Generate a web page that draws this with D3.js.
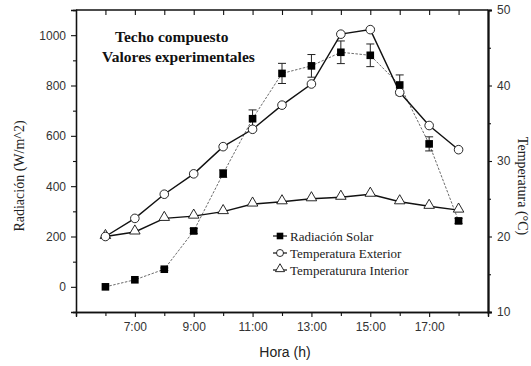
<!DOCTYPE html>
<html>
<head>
<meta charset="utf-8">
<script src="https://cdn.jsdelivr.net/npm/d3@7/dist/d3.min.js"></script>
<style>
  html, body { margin: 0; padding: 0; background: #fff; }
  svg { display: block; }
</style>
</head>
<body>
<svg id="chart" width="531" height="366"></svg>
<script>
// Hour of day (h)
const hours = [6, 7, 8, 9, 10, 11, 12, 13, 14, 15, 16, 17, 18];
// Solar radiation (W/m^2) and its measured spread
const radiacion = [0, 28, 70, 222, 450, 668, 848, 878, 932, 920, 802, 568, 262];
const radiacionErr = [0, 0, 5, 10, 15, 35, 40, 45, 45, 45, 40, 28, 10];
// Outdoor and indoor temperature (°C)
const tempExterior = [20, 22.4, 25.6, 28.3, 31.9, 34.2, 37.4, 40.2, 46.8, 47.4, 39.1, 34.7, 31.5];
const tempInterior = [20, 20.6, 22.4, 22.7, 23.3, 24.3, 24.6, 25.0, 25.2, 25.6, 24.6, 24.0, 23.5];
// Axis ticks
const xTickLabels = ["7:00", "9:00", "11:00", "13:00", "15:00", "17:00"];
const xMajor = [7, 9, 11, 13, 15, 17];
const xMinor = [6, 8, 10, 12, 14, 16, 18];
const yLeftMajor = [0, 200, 400, 600, 800, 1000];
const yLeftMinor = [-100, 100, 300, 500, 700, 900];
const yRightMajor = [10, 20, 30, 40, 50];
const yRightMinor = [15, 25, 35, 45];
const legendLabels = ["Radiación Solar", "Temperatura Exterior", "Temperaturura Interior"];

const svg = d3.select("#chart");
const L = 76, R = 488, T = 10, B = 312;

const x = d3.scaleLinear().domain([5, 19]).range([L, R]);
const yL = d3.scaleLinear().domain([-100, 1100]).range([B, T]);
const yR = d3.scaleLinear().domain([10, 50]).range([B, T]);

const sans = "'Liberation Sans', Arial, sans-serif";
const serif = "'Liberation Serif', 'Times New Roman', serif";
const ink = "#111";
const fmt = d3.format("d");

// Bottom axis
const axBottom = svg.append("g").attr("transform", `translate(0,${B})`);
axBottom.call(d3.axisBottom(x).tickValues(xMajor).tickSize(5).tickFormat((d, i) => xTickLabels[i]));
axBottom.append("g").call(d3.axisBottom(x).tickValues(xMinor).tickSize(4).tickFormat(""));
// Top axis, ticks inward
const axTop = svg.append("g").attr("transform", `translate(0,${T})`);
axTop.call(d3.axisBottom(x).tickValues(xMajor.concat(xMinor)).tickSize(5).tickFormat(""));
axTop.select(".domain").remove();
svg.append("line").attr("x1", L).attr("x2", R).attr("y1", T).attr("y2", T)
  .attr("stroke", ink).attr("stroke-width", 1.5);

// Left axis
const axLeft = svg.append("g").attr("transform", `translate(${L},0)`);
axLeft.call(d3.axisLeft(yL).tickValues(yLeftMajor).tickSize(5).tickPadding(5).tickFormat(fmt));
axLeft.append("g").call(d3.axisLeft(yL).tickValues(yLeftMinor).tickSize(3).tickFormat(""));

// Right axis
const axRight = svg.append("g").attr("transform", `translate(${R},0)`);
axRight.call(d3.axisRight(yR).tickValues(yRightMajor).tickSize(4).tickPadding(5).tickFormat(fmt));
axRight.append("g").call(d3.axisRight(yR).tickValues(yRightMinor).tickSize(3).tickFormat(""));

svg.selectAll(".domain").attr("stroke", ink).attr("stroke-width", 1.3);
axRight.select(".domain").attr("stroke-width", 2.2);
svg.selectAll(".tick line").attr("stroke", ink).attr("stroke-width", 1.1);
svg.selectAll(".tick text").attr("font-family", sans).attr("font-size", 12).attr("fill", "#333");
axBottom.selectAll(".tick text").attr("dy", "0.95em");

// Radiation series: thin dashed line with error bars and filled squares
const lineRad = d3.line().x((d, i) => x(hours[i])).y(d => yL(d));
svg.append("path").datum(radiacion).attr("d", lineRad)
  .attr("fill", "none").attr("stroke", "#444").attr("stroke-width", 0.8)
  .attr("stroke-dasharray", "2.5,1.5");

const err = svg.append("g").attr("stroke", "#222").attr("stroke-width", 1);
hours.forEach((h, i) => {
  const e = radiacionErr[i];
  if (!e) return;
  const cx = x(h), y1 = yL(radiacion[i] + e), y2 = yL(radiacion[i] - e);
  err.append("line").attr("x1", cx).attr("x2", cx).attr("y1", y1).attr("y2", y2);
  err.append("line").attr("x1", cx - 4).attr("x2", cx + 4).attr("y1", y1).attr("y2", y1);
  err.append("line").attr("x1", cx - 4).attr("x2", cx + 4).attr("y1", y2).attr("y2", y2);
});

// Temperature series
const lineT = d3.line().x((d, i) => x(hours[i])).y(d => yR(d));
svg.append("path").datum(tempExterior).attr("d", lineT)
  .attr("fill", "none").attr("stroke", ink).attr("stroke-width", 1.4);
svg.append("path").datum(tempInterior).attr("d", lineT)
  .attr("fill", "none").attr("stroke", ink).attr("stroke-width", 1.4);

const tri = d3.symbol().type(d3.symbolTriangle).size(48);
svg.append("g").selectAll("path").data(tempInterior).join("path")
  .attr("d", tri)
  .attr("transform", (d, i) => `translate(${x(hours[i])},${yR(d) - 1})`)
  .attr("fill", "#fff").attr("stroke", ink).attr("stroke-width", 0.9);

svg.append("g").selectAll("circle").data(tempExterior).join("circle")
  .attr("cx", (d, i) => x(hours[i])).attr("cy", d => yR(d)).attr("r", 4.3)
  .attr("fill", "#fff").attr("stroke", ink).attr("stroke-width", 0.9);

svg.append("g").selectAll("rect").data(radiacion).join("rect")
  .attr("x", (d, i) => x(hours[i]) - 3.8).attr("y", d => yL(d) - 3.8)
  .attr("width", 7.6).attr("height", 7.6).attr("fill", "#000");

// Legend
const legY = [236, 253, 270];
const lg = svg.append("g");
legendLabels.forEach((t, i) => {
  const ly = legY[i], lx0 = 273, lx1 = 287, cx = 280;
  lg.append("line").attr("x1", lx0).attr("x2", lx1).attr("y1", ly).attr("y2", ly)
    .attr("stroke", ink).attr("stroke-width", 1.2);
  if (i === 0) {
    lg.append("rect").attr("x", cx - 3.3).attr("y", ly - 3.3).attr("width", 6.6).attr("height", 6.6).attr("fill", "#000");
  } else if (i === 1) {
    lg.append("circle").attr("cx", cx).attr("cy", ly).attr("r", 3.5)
      .attr("fill", "#fff").attr("stroke", ink).attr("stroke-width", 0.9);
  } else {
    lg.append("path").attr("d", d3.symbol().type(d3.symbolTriangle).size(36))
      .attr("transform", `translate(${cx},${ly - 1})`)
      .attr("fill", "#fff").attr("stroke", ink).attr("stroke-width", 0.9);
  }
  lg.append("text").attr("x", 290).attr("y", ly + 4.5).text(t)
    .attr("font-family", serif).attr("font-size", 13).attr("fill", "#222");
});

// Title block
svg.append("text").attr("x", 115).attr("y", 42).text("Techo compuesto")
  .attr("font-family", serif).attr("font-weight", "bold").attr("font-size", 15.5).attr("fill", "#111");
svg.append("text").attr("x", 102).attr("y", 62).text("Valores experimentales")
  .attr("font-family", serif).attr("font-weight", "bold").attr("font-size", 15.5).attr("fill", "#111");

// Axis titles
svg.append("text").attr("transform", "translate(24,176) rotate(-90)")
  .attr("text-anchor", "middle").text("Radiación (W/m^2)")
  .attr("font-family", serif).attr("font-size", 14).attr("fill", "#222");
svg.append("text").attr("transform", "translate(518,186) rotate(90)")
  .attr("text-anchor", "middle").text("Temperatura (°C)")
  .attr("font-family", serif).attr("font-size", 14).attr("fill", "#222");
svg.append("text").attr("x", 285).attr("y", 357).attr("text-anchor", "middle").text("Hora (h)")
  .attr("font-family", sans).attr("font-size", 14).attr("fill", "#222");
</script>
</body>
</html>
